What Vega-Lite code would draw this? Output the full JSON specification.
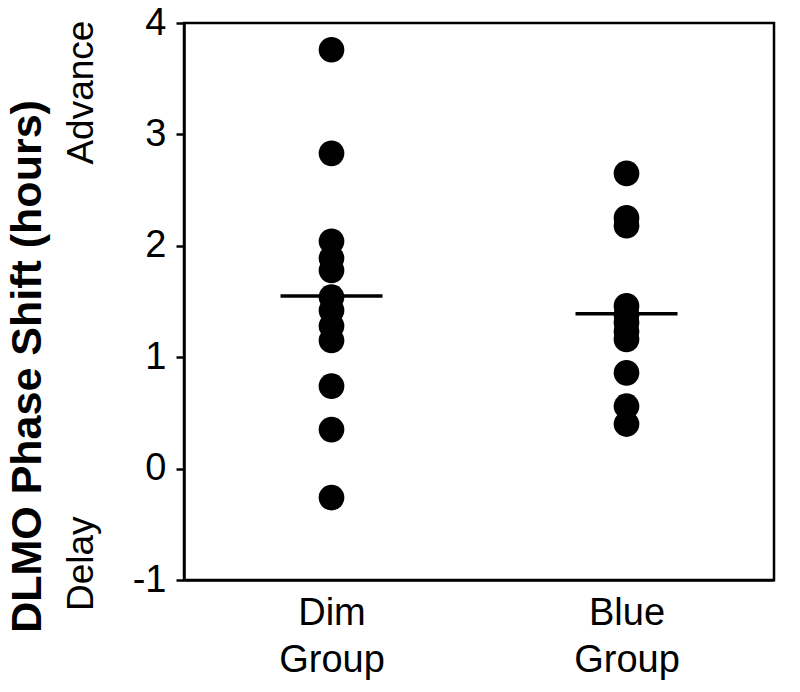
{
  "$schema": "https://vega.github.io/schema/vega-lite/v6.json",
  "width": 590,
  "height": 557,
  "autosize": {"type": "none"},
  "padding": {"left": 184, "top": 23, "right": 26, "bottom": 112},
  "background": "white",
  "config": {
    "font": "Liberation Sans",
    "view": {"stroke": "black", "strokeWidth": 2.5},
    "axis": {"grid": false, "domainColor": "black", "domainWidth": 2.5, "tickColor": "black", "tickWidth": 2.5, "labelColor": "black", "titleColor": "black", "labelFont": "Liberation Sans", "titleFont": "Liberation Sans"}
  },
  "datasets": {
    "points": [
      {"group": "Dim Group", "value": 3.76},
      {"group": "Dim Group", "value": 2.83},
      {"group": "Dim Group", "value": 2.04},
      {"group": "Dim Group", "value": 1.89},
      {"group": "Dim Group", "value": 1.78},
      {"group": "Dim Group", "value": 1.54},
      {"group": "Dim Group", "value": 1.42},
      {"group": "Dim Group", "value": 1.28},
      {"group": "Dim Group", "value": 1.15},
      {"group": "Dim Group", "value": 0.74},
      {"group": "Dim Group", "value": 0.35},
      {"group": "Dim Group", "value": -0.26},
      {"group": "Blue Group", "value": 2.65},
      {"group": "Blue Group", "value": 2.25},
      {"group": "Blue Group", "value": 2.18},
      {"group": "Blue Group", "value": 1.46},
      {"group": "Blue Group", "value": 1.38},
      {"group": "Blue Group", "value": 1.31},
      {"group": "Blue Group", "value": 1.23},
      {"group": "Blue Group", "value": 1.16},
      {"group": "Blue Group", "value": 0.86},
      {"group": "Blue Group", "value": 0.56},
      {"group": "Blue Group", "value": 0.4}
    ],
    "means": [
      {"group": "Dim Group", "mean": 1.55},
      {"group": "Blue Group", "mean": 1.39}
    ],
    "sides": [
      {"side": "Advance", "pos": 3.38},
      {"side": "Delay", "pos": -0.85}
    ]
  },
  "layer": [
    {
      "data": {"name": "points"},
      "mark": {"type": "circle", "size": 660, "color": "black", "opacity": 1},
      "encoding": {
        "x": {
          "field": "group", "type": "nominal", "sort": ["Dim Group", "Blue Group"],
          "scale": {"type": "point", "padding": 0.5},
          "axis": {"title": null, "labelAngle": 0, "ticks": false, "labelFontSize": 38, "labelPadding": 14, "labelExpr": "split(datum.label, ' ')", "labelLineHeight": 47, "labelBaseline": "top"}
        },
        "y": {
          "field": "value", "type": "quantitative",
          "scale": {"domain": [-1, 4], "nice": false, "zero": false},
          "axis": {"values": [-1, 0, 1, 2, 3, 4], "labelExpr": "'' + datum.value", "title": "DLMO Phase Shift (hours)", "titleFontSize": 43, "titleFontWeight": "bold", "titleX": -135, "titleY": 343, "titleAngle": -90, "titleAlign": "center", "titleBaseline": "bottom", "labelFontSize": 38, "tickSize": 8, "labelPadding": 10, "labelFlush": false, "labelOverlap": false}
        }
      }
    },
    {
      "data": {"name": "means"},
      "mark": {"type": "tick", "color": "black", "opacity": 1, "size": 102, "thickness": 3.5},
      "encoding": {
        "x": {"field": "group", "type": "nominal", "sort": ["Dim Group", "Blue Group"], "scale": {"type": "point", "padding": 0.5}},
        "y": {"field": "mean", "type": "quantitative", "scale": {"domain": [-1, 4], "nice": false, "zero": false}, "axis": null}
      }
    },
    {
      "data": {"name": "sides"},
      "mark": {"type": "point", "opacity": 0},
      "encoding": {
        "y": {
          "field": "pos", "type": "quantitative",
          "scale": {"domain": [-1, 4], "nice": false, "zero": false},
          "axis": {"orient": "left", "offset": 84, "domain": false, "ticks": false, "title": null, "values": [3.38, -0.85], "labelExpr": "datum.value > 1 ? 'Advance' : 'Delay'", "labelAngle": -90, "labelAlign": "center", "labelBaseline": "bottom", "labelFontSize": 37, "labelPadding": 0, "labelFlush": false, "labelOverlap": false, "labelBound": false}
        }
      }
    }
  ],
  "resolve": {"scale": {"y": "independent"}}
}
